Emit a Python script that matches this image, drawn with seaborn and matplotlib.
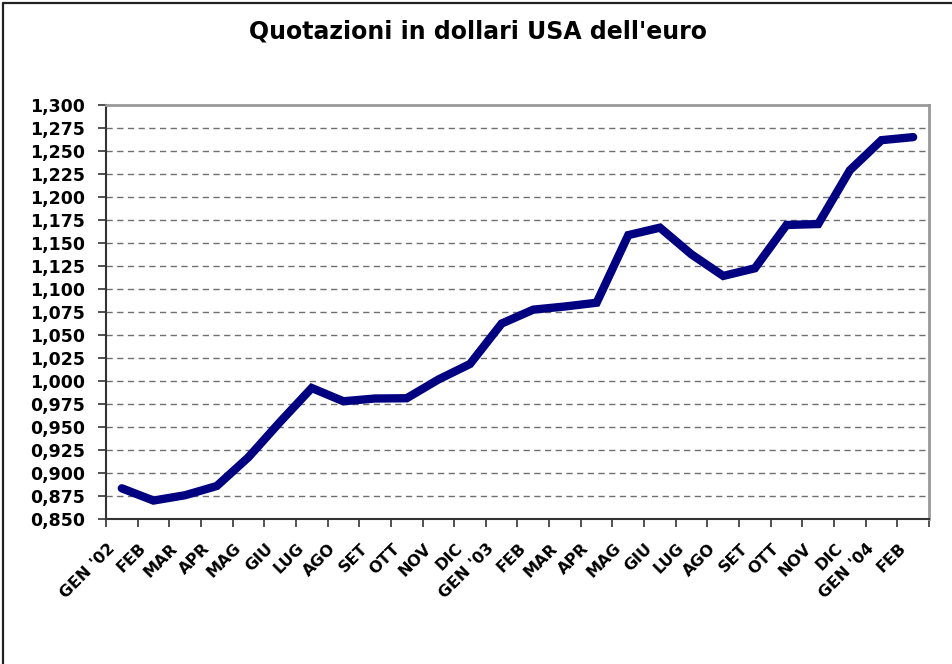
import numpy as np
import pandas as pd
import matplotlib
matplotlib.use("Agg")
import matplotlib.pyplot as plt
import matplotlib.ticker as mticker
import matplotlib.transforms as mtransforms
from matplotlib.lines import Line2D
import seaborn as sns

# ==============================
# Data: monthly EUR/USD quotes, Jan 2002 - Feb 2004
# ==============================
months = ["GEN '02", "FEB", "MAR", "APR", "MAG", "GIU", "LUG", "AGO", "SET", "OTT", "NOV", "DIC",
          "GEN '03", "FEB", "MAR", "APR", "MAG", "GIU", "LUG", "AGO", "SET", "OTT", "NOV", "DIC",
          "GEN '04", "FEB"]
quotes = [0.8833, 0.8700, 0.8758, 0.8858, 0.9170, 0.9554, 0.9922, 0.9778, 0.9808, 0.9811, 1.0014, 1.0183,
          1.0622, 1.0773, 1.0807, 1.0848, 1.1582, 1.1663, 1.1372, 1.1139, 1.1222, 1.1692, 1.1702, 1.2286,
          1.2613, 1.2646]
y_ticks = [0.850, 0.875, 0.900, 0.925, 0.950, 0.975, 1.000, 1.025, 1.050, 1.075, 1.100, 1.125, 1.150,
           1.175, 1.200, 1.225, 1.250, 1.275, 1.300]

df = pd.DataFrame({"pos": np.arange(len(months)), "quote": quotes})

# ==============================
# Style
# ==============================
sns.set_style("white")
plt.rcParams['font.family'] = ['DejaVu Sans']
plt.rcParams['font.weight'] = 'bold'
plt.rcParams['text.color'] = 'black'
plt.rcParams['xtick.color'] = 'black'
plt.rcParams['ytick.color'] = 'black'

fig = plt.figure(figsize=(9.53, 6.64), dpi=100)
ax = fig.add_axes([0.1112, 0.2184, 0.8636, 0.6242])

# dashed horizontal grid
for yv in y_ticks[1:-1]:
    ax.axhline(yv, color="#707070", lw=1.0, dashes=(4.5, 3.2), zorder=0)

sns.lineplot(data=df, x="pos", y="quote", ax=ax, color="#000080", lw=6,
             solid_capstyle="round", solid_joinstyle="miter", zorder=3)

ax.set_xlim(-0.5, len(months) - 0.5)
ax.set_ylim(0.85, 1.30)
ax.set_xlabel("")
ax.set_ylabel("")

# y axis
ax.set_yticks(y_ticks)
ax.yaxis.set_major_formatter(mticker.FuncFormatter(lambda v, p: f"{v:.3f}".replace(".", ",")))
ax.tick_params(axis="y", direction="out", length=6, width=1.2, color="#333333",
               labelsize=12.5, pad=9, left=True)

# x axis: ticks at category borders, labels at centers
ax.set_xticks(np.arange(-0.5, len(months), 1.0))
ax.set_xticklabels([])
ax.set_xticks(np.arange(len(months)), minor=True)
ax.set_xticklabels(months, minor=True, rotation=45, ha="right", rotation_mode="anchor")
ax.tick_params(axis="x", which="major", direction="out", length=6, width=1.2, color="#333333", bottom=True)
ax.tick_params(axis="x", which="minor", length=0, labelsize=11.5, pad=12)
shift = mtransforms.ScaledTranslation(-0.15, -0.05, fig.dpi_scale_trans)
for lbl in ax.get_xticklabels(minor=True):
    lbl.set_fontweight("bold")
    lbl.set_transform(lbl.get_transform() + shift)
for lbl in ax.get_yticklabels():
    lbl.set_fontweight("bold")

for side in ["left", "bottom"]:
    ax.spines[side].set_color("#333333")
    ax.spines[side].set_linewidth(1.5)
for side in ["top", "right"]:
    ax.spines[side].set_color("#999999")
    ax.spines[side].set_linewidth(2)

fig.text(0.502, 0.952, "Quotazioni in dollari USA dell'euro", ha="center", va="center",
         fontsize=17, fontweight="bold")

# chart frame (left and top edges)
fig.add_artist(Line2D([0.0035, 0.0035], [0, 0.9955], transform=fig.transFigure, color="#222222", lw=1.6))
fig.add_artist(Line2D([0.0035, 1.0], [0.9955, 0.9955], transform=fig.transFigure, color="#222222", lw=1.6))

fig.savefig("out.png", dpi=100)
